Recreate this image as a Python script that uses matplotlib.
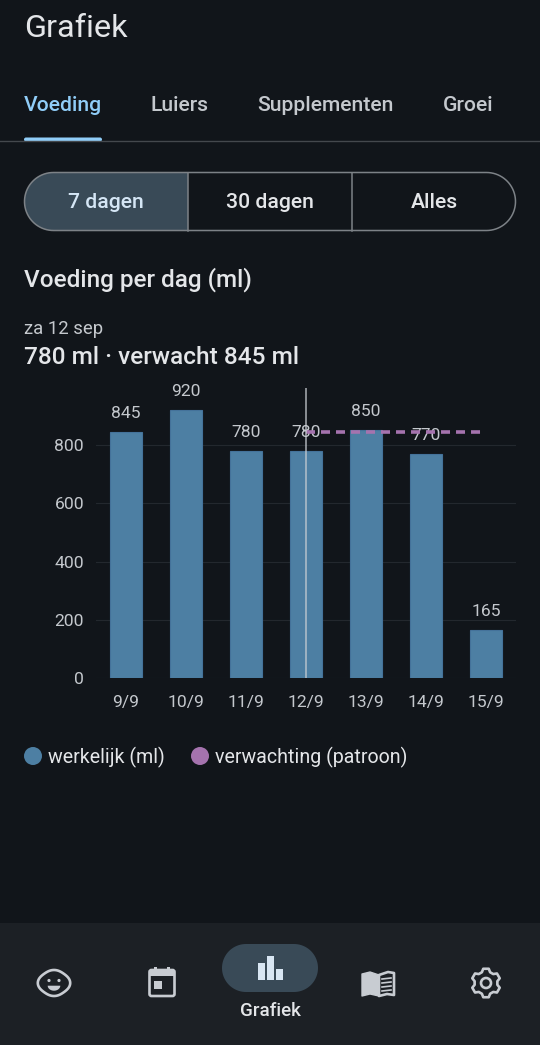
import numpy as np
import matplotlib
matplotlib.use('Agg')
import matplotlib.pyplot as plt
from matplotlib.patches import FancyBboxPatch, Rectangle, Circle, Polygon

# Chart values
days = ['9/9', '10/9', '11/9', '12/9', '13/9', '14/9', '15/9']
actual_ml = [845, 920, 780, 780, 850, 770, 165]
expected_days = ['12/9', '13/9', '14/9', '15/9']
expected_ml = [845, 845, 845, 845]
y_ticks = [0, 200, 400, 600, 800]
tabs = ['Voeding', 'Luiers', 'Supplementen', 'Groei']
ranges = ['7 dagen', '30 dagen', 'Alles']

BG = '#11151a'
NAV = '#1c2025'
BAR = '#4d7fa3'
BAR_EDGE = '#44729a'
PURPLE = '#a573ae'
ACCENT = '#90cdf8'
PILL = '#394a57'
MUTED = '#c4c8cd'
WHITE = '#e4e6e9'
ICON = '#c8ccd2'

W, H = 540, 1045
plt.rcParams['font.family'] = ['Roboto', 'DejaVu Sans']
fig = plt.figure(figsize=(W / 100, H / 100), dpi=100, facecolor=BG)


def px(v):
    return v * 0.72


def pill_points(x, y, w, h):
    # stadium outline, true arcs (boxstyle round is too square at full radius)
    r = h / 2
    t = np.linspace(-np.pi / 2, np.pi / 2, 40)
    right_side = np.c_[x + w - r + r * np.cos(t), y + r + r * np.sin(t)]
    left_side = np.c_[x + r - r * np.cos(t), y + r - r * np.sin(t)]
    return np.vstack([right_side, left_side])


# Page overlay in pixel coordinates
bg = fig.add_axes([0, 0, 1, 1], zorder=0)
bg.set_xlim(0, W)
bg.set_ylim(H, 0)
bg.axis('off')

bg.text(24, 28.5, 'Grafiek', color=WHITE, fontsize=px(32.5), va='center')

tab_x = [24, 150, 257, 442.5]
for i, (t, x) in enumerate(zip(tabs, tab_x)):
    bg.text(x, 105.5, t, fontsize=px(21.2), va='center', weight='medium',
            color=ACCENT if i == 0 else MUTED)
bg.plot([0, W], [141, 141], color='#44484d', lw=1)
bg.add_patch(FancyBboxPatch((24, 137.5), 78, 4, boxstyle='round,pad=0,rounding_size=2',
                            fc=ACCENT, ec='none'))

# Segmented buttons
frame = Polygon(pill_points(24.5, 172.5, 491, 58), closed=True, fc='none', ec='#7d8287', lw=1.1, zorder=3)
bg.add_patch(frame)
sel = Rectangle((24, 172), 164, 59, fc=PILL, ec='none', zorder=2)
bg.add_patch(sel)
sel.set_clip_path(frame)
for x in [188, 352]:
    bg.plot([x, x], [172.5, 230.5], color='#7d8287', lw=1.1, zorder=3)
for i, (t, x) in enumerate(zip(ranges, [106, 270, 434])):
    bg.text(x, 202.5, t, ha='center', va='center', fontsize=px(21.2), weight='medium',
            color='#d5e6f5' if i == 0 else WHITE, zorder=4)

bg.text(24, 280, 'Voeding per dag (ml)', color=WHITE, fontsize=px(24.3), va='center', weight='medium')
bg.text(24, 328.5, 'za 12 sep', color=MUTED, fontsize=px(18.5), va='center')
bg.text(24, 358, '780 ml · verwacht 845 ml', color=WHITE, fontsize=px(24.4), va='center', weight='medium')

# Legend
bg.add_patch(Circle((33, 756), 9, fc=BAR, ec='none'))
bg.text(48, 757, 'werkelijk (ml)', color=WHITE, fontsize=px(19.7), va='center')
bg.add_patch(Circle((200, 756), 9, fc=PURPLE, ec='none'))
bg.text(215, 757, 'verwachting (patroon)', color=WHITE, fontsize=px(19.7), va='center')

# Bottom navigation
bg.add_patch(Rectangle((0, 923), W, H - 923, fc=NAV, ec='none'))
bg.add_patch(Polygon(pill_points(222, 944, 96, 48), closed=True, fc=PILL, ec='none'))
bg.text(270, 1010.5, 'Grafiek', color=WHITE, fontsize=px(18.8), ha='center', va='center', weight='medium')
for x, y0 in [(258, 963), (267, 956), (276, 969)]:
    bg.add_patch(Rectangle((x, y0), 6.5, 980 - y0, fc='#d8e6f3', ec='none'))

# baby face
t = np.linspace(0, 2 * np.pi, 120)
r = 13 + 3.2 * np.abs(np.cos(t)) ** 6
bg.add_patch(Polygon(np.c_[54 + r * np.cos(t), 983 + r * np.sin(t)], closed=True,
                     fc='none', ec=ICON, lw=1.9, joinstyle='round'))
bg.add_patch(Circle((49, 980.5), 1.6, fc=ICON, ec='none'))
bg.add_patch(Circle((59, 980.5), 1.6, fc=ICON, ec='none'))
s = np.linspace(0, np.pi, 30)
bg.add_patch(Polygon(np.c_[54 + 6.3 * np.cos(s), 985.7 + 5 * np.sin(s)], closed=True, fc=ICON, ec='none'))

# calendar
bg.add_patch(FancyBboxPatch((149.5, 970), 25, 26, boxstyle='round,pad=0,rounding_size=2',
                            fc='none', ec=ICON, lw=1.9))
bg.add_patch(Rectangle((149.5, 970), 25, 5.5, fc=ICON, ec='none'))
bg.add_patch(Rectangle((154, 966.5), 2.6, 5, fc=ICON, ec='none'))
bg.add_patch(Rectangle((167.4, 966.5), 2.6, 5, fc=ICON, ec='none'))
bg.add_patch(Rectangle((154, 981), 8, 8, fc=ICON, ec='none'))

# book
bg.add_patch(Polygon([[362, 974], [370, 972], [379, 975], [379, 996], [370, 994], [362, 996]],
                     fc=ICON, ec=ICON, lw=1, joinstyle='round'))
bg.add_patch(Polygon([[379, 975], [388, 972], [394, 973], [394, 995], [387, 994], [379, 996]],
                     fc=NAV, ec=ICON, lw=1.9, joinstyle='round'))
for y in [978, 982, 986, 990]:
    bg.plot([382, 391], [y + 1, y], color=ICON, lw=1.2)

# gear, six teeth
gear = []
for k in range(6):
    c = np.radians(-90 + 60 * k)
    for off, rad in [(-21, 11.5), (-11, 14.5), (11, 14.5), (21, 11.5)]:
        a = c + np.radians(off)
        gear.append([486 + rad * np.cos(a), 983 + rad * np.sin(a)])
bg.add_patch(Polygon(gear, closed=True, fc='none', ec=ICON, lw=1.9, joinstyle='round'))
bg.add_patch(Circle((486, 983), 5, fc='none', ec=ICON, lw=1.9))

# Chart, positioned so that 0 lands on y=678 and 800 on y=445
left, right, top, bottom = 96, 516, 388, 678
ax = fig.add_axes([left / W, 1 - bottom / H, (right - left) / W, (bottom - top) / H], zorder=1)
ax.patch.set_alpha(0)
pos = np.arange(len(days))
bars = ax.bar(pos, actual_ml, width=0.54, color=BAR, edgecolor=BAR_EDGE, linewidth=0.8, zorder=2)
ax.bar_label(bars, padding=px(11), color=MUTED, fontsize=px(17.5))
exp_pos = [days.index(d) for d in expected_days]
ax.plot(exp_pos, expected_ml, color=PURPLE, lw=px(3.6), dashes=(2.5, 1.667), zorder=3)
ax.axvline(days.index('12/9'), color='#c9ced3', lw=px(1.6), alpha=0.8, zorder=4)

ax.set_xlim(-0.5, 6.5)
ax.set_ylim(0, (bottom - top) / 0.29125)
ax.set_xticks(pos, days)
ax.set_yticks(y_ticks)
ax.grid(axis='y', color='#23282e', lw=0.8, zorder=0)
ax.set_axisbelow(True)
ax.tick_params(axis='x', length=0, pad=px(17), labelsize=px(17.5), labelcolor=MUTED)
ax.tick_params(axis='y', length=0, pad=px(12), labelsize=px(17.5), labelcolor=MUTED)
for s_ in ax.spines.values():
    s_.set_visible(False)

fig.savefig('out.png', dpi=100, facecolor=BG)
